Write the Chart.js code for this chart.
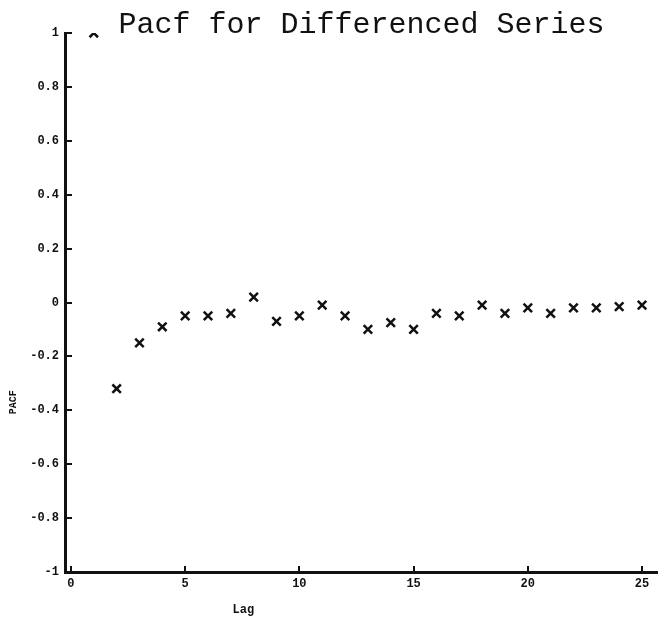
<!DOCTYPE html>
<html>
<head>
<meta charset="utf-8">
<script src="https://cdn.jsdelivr.net/npm/chart.js@4.4.0/dist/chart.umd.min.js"></script>
<style>
  html, body { margin: 0; padding: 0; background: #fff; }
  #wrap { width: 658px; height: 625px; }
</style>
</head>
<body>
<div id="wrap"><canvas id="pacf" width="658" height="625"></canvas></div>
<script>
// valeurs
var lags = [1, 2, 3, 4, 5, 6, 7, 8, 9, 10, 11, 12, 13, 14, 15, 16, 17, 18, 19, 20, 21, 22, 23, 24, 25];
var pacf = [1, -0.32, -0.15, -0.09, -0.05, -0.05, -0.04, 0.02, -0.07, -0.05, -0.01, -0.05, -0.10, -0.075, -0.10,
            -0.04, -0.05, -0.01, -0.04, -0.02, -0.04, -0.02, -0.02, -0.015, -0.01];
var xTicks = [0, 5, 10, 15, 20, 25];
var yTicks = [-1, -0.8, -0.6, -0.4, -0.2, 0, 0.2, 0.4, 0.6, 0.8, 1];

var points = [];
for (let i = 0; i < lags.length; i++) {
    points.push({ x: lags[i], y: pacf[i] });
}

var monoBold = { family: "'Liberation Mono', 'DejaVu Sans Mono', monospace", size: 12, weight: 'bold' };

// petits traits vers l'interieur + titres des axes
var axisExtras = {
    id: 'axisExtras',
    afterDraw(chart) {
        var ctx = chart.ctx;
        var xs = chart.scales.x;
        var ys = chart.scales.y;
        var area = chart.chartArea;
        ctx.save();
        ctx.strokeStyle = '#111';
        ctx.lineWidth = 2;
        ctx.beginPath();
        yTicks.forEach(function (v) {
            var py = Math.round(ys.getPixelForValue(v));
            ctx.moveTo(area.left, py);
            ctx.lineTo(area.left + 7, py);
        });
        xTicks.forEach(function (v) {
            var px = Math.round(xs.getPixelForValue(v));
            ctx.moveTo(px, area.bottom);
            ctx.lineTo(px, area.bottom - 6);
        });
        ctx.stroke();

        ctx.fillStyle = '#111';
        ctx.font = "bold 12px 'Liberation Mono', monospace";
        ctx.textAlign = 'center';
        ctx.textBaseline = 'middle';
        ctx.fillText('Lag', xs.getPixelForValue(7.55), 610);

        ctx.translate(13, ys.getPixelForValue(-0.37));
        ctx.rotate(-Math.PI / 2);
        ctx.font = "bold 10px 'Liberation Mono', monospace";
        ctx.fillText('PACF', 0, 0);
        ctx.restore();
    }
};

new Chart(document.getElementById('pacf'), {
    type: 'scatter',
    data: {
        datasets: [{
            data: points,
            pointStyle: 'crossRot',
            pointRadius: 6,
            pointBorderWidth: 2.5,
            borderColor: '#111',
            backgroundColor: '#111',
            showLine: false
        }]
    },
    options: {
        responsive: false,
        animation: false,
        layout: { autoPadding: false, padding: { top: 3, left: 0, right: 0, bottom: 0 } },
        plugins: {
            legend: { display: false },
            tooltip: { enabled: false },
            title: {
                display: true,
                text: 'Pacf for Differenced Series',
                fullSize: false,
                color: '#111',
                font: { family: "'Liberation Mono', 'DejaVu Sans Mono', monospace", size: 30, weight: 'normal', lineHeight: 1 },
                padding: { top: 7, bottom: -7 }
            }
        },
        scales: {
            x: {
                type: 'linear',
                min: -0.26,
                max: 25.7,
                afterBuildTicks: function (axis) {
                    axis.ticks = xTicks.map(function (v) { return { value: v }; });
                },
                afterFit: function (axis) {
                    axis.height = 53;
                    axis.paddingLeft = 0;
                    axis.paddingRight = 0;
                },
                grid: { display: false, drawTicks: false },
                border: { display: true, color: '#111', width: 3 },
                ticks: { color: '#111', font: monoBold, padding: 5, maxRotation: 0 }
            },
            y: {
                min: -1,
                max: 1,
                afterBuildTicks: function (axis) {
                    axis.ticks = yTicks.map(function (v) { return { value: v }; });
                },
                afterFit: function (axis) { axis.width = 65; },
                grid: { display: false, drawTicks: false },
                border: { display: true, color: '#111', width: 3 },
                ticks: {
                    color: '#111',
                    font: monoBold,
                    padding: 6,
                    callback: function (v) { return String(Math.round(v * 10) / 10); }
                }
            }
        }
    },
    plugins: [axisExtras]
});
</script>
</body>
</html>
